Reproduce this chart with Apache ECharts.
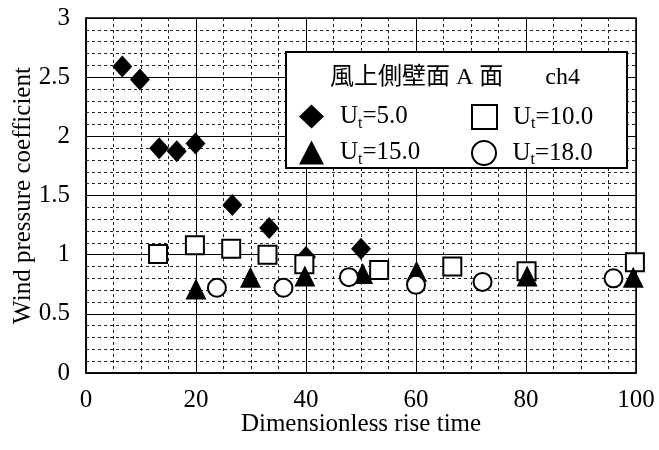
<!DOCTYPE html>
<html>
<head>
<meta charset="utf-8">
<script src="https://cdn.jsdelivr.net/npm/echarts@6/dist/echarts.min.js"></script>
<style>html,body{margin:0;padding:0;background:#fff;}#c{width:659px;height:450px;}</style>
</head>
<body>
<div id="c"></div>
<script>
// ---- data ----
const x5  = [6.6, 9.8, 13.3, 16.5, 19.9, 26.6, 33.3, 40.0, 50.0];
const y5  = [2.59, 2.48, 1.90, 1.875, 1.94, 1.42, 1.225, 0.98, 1.05];
const x10 = [13.1, 19.8, 26.4, 33.0, 39.7, 53.3, 66.6, 80.1, 99.8];
const y10 = [1.005, 1.08, 1.05, 1.0, 0.92, 0.87, 0.90, 0.86, 0.935];
const x15 = [20.0, 29.9, 39.8, 50.3, 60.1, 80.2, 99.5];
const y15 = [0.71, 0.81, 0.82, 0.84, 0.86, 0.82, 0.81];
const x18 = [23.8, 35.9, 47.8, 60.0, 72.1, 95.9];
const y18 = [0.72, 0.72, 0.81, 0.745, 0.77, 0.80];
const seriesNames = ['Ut=5.0', 'Ut=10.0', 'Ut=15.0', 'Ut=18.0'];
const legendValues = ['5.0', '10.0', '15.0', '18.0'];
const legendTitle = '風上側壁面 A 面　   ch4';
const xTitle = 'Dimensionless rise time';
const yTitle = 'Wind pressure coefficient';

const pts = (xs, ys) => xs.map((x, i) => [x, ys[i]]);
const FONT = '"Liberation Serif", "Times New Roman", serif';

const chart = echarts.init(document.getElementById('c'), null, {renderer: 'canvas'});

function legendFor(idx, left, top) {
  return {
    data: [seriesNames[idx]],
    left: left, top: top,
    orient: 'horizontal',
    itemWidth: 25, itemHeight: 24,
    padding: 0,
    selectedMode: false,
    z: 10,
    formatter: () => '{sp|}{b|U}{s|t}{b|=' + legendValues[idx] + '}',
    textStyle: {
      rich: {
        sp: {width: 11},
        b: {fontFamily: FONT, fontSize: 25, color: '#000', verticalAlign: 'middle'},
        s: {fontFamily: FONT, fontSize: 16, color: '#000', padding: [14, 0, 0, 0]}
      }
    }
  };
}

const option = {
  backgroundColor: '#fff',
  animation: false,
  grid: {left: 86, right: 23, top: 18, bottom: 77, show: true, borderColor: '#000', borderWidth: 1.5,
         backgroundColor: 'transparent', containLabel: false, outerBoundsMode: 'none'},
  xAxis: {
    type: 'value', min: 0, max: 100, interval: 20,
    axisLine: {show: true, lineStyle: {color: '#000', width: 1.5}},
    axisTick: {show: false},
    axisLabel: {fontFamily: FONT, fontSize: 25, color: '#000', margin: 15},
    splitLine: {show: true, lineStyle: {color: '#000', width: 1}},
    minorTick: {show: false, splitNumber: 4},
    minorSplitLine: {show: true, lineStyle: {color: '#222', width: 1, type: [3, 3]}},
    name: xTitle, nameLocation: 'middle', nameGap: 39, nameMoveOverlap: false,
    nameTextStyle: {fontFamily: FONT, fontSize: 25, color: '#000'}
  },
  yAxis: {
    type: 'value', min: 0, max: 3, interval: 0.5,
    axisLine: {show: true, lineStyle: {color: '#000', width: 1.5}},
    axisTick: {show: false},
    axisLabel: {fontFamily: FONT, fontSize: 25, color: '#000', margin: 16},
    splitLine: {show: true, lineStyle: {color: '#000', width: 1}},
    minorTick: {show: false, splitNumber: 5},
    minorSplitLine: {show: true, lineStyle: {color: '#222', width: 1, type: [3, 3]}},
    name: yTitle, nameLocation: 'middle', nameGap: 50, nameMoveOverlap: false,
    nameTextStyle: {fontFamily: FONT, fontSize: 25, color: '#000'}
  },
  title: {
    text: legendTitle, left: 330, top: 66, padding: 0, z: 10,
    textStyle: {fontFamily: '"Liberation Serif", "Noto Sans CJK JP", serif', fontSize: 24, fontWeight: 'normal', color: '#000'}
  },
  legend: [
    legendFor(0, 299, 104),
    legendFor(1, 471, 104),
    legendFor(2, 299, 140),
    legendFor(3, 471, 140)
  ],
  graphic: [{
    type: 'rect', z: 5,
    shape: {x: 286, y: 52, width: 341, height: 116},
    style: {fill: '#fff', stroke: '#000', lineWidth: 2}
  }],
  series: [
    {name: seriesNames[0], type: 'scatter', symbol: 'diamond', symbolSize: [20, 22], data: pts(x5, y5),
     itemStyle: {color: '#000', opacity: 1}, z: 2},
    {name: seriesNames[1], type: 'scatter', symbol: 'rect', symbolSize: 18, data: pts(x10, y10),
     itemStyle: {color: '#fff', borderColor: '#000', borderWidth: 2, opacity: 1}, z: 3},
    {name: seriesNames[2], type: 'scatter', symbol: 'triangle', symbolSize: 21, data: pts(x15, y15),
     itemStyle: {color: '#000', opacity: 1}, z: 4},
    {name: seriesNames[3], type: 'scatter', symbol: 'circle', symbolSize: 18, data: pts(x18, y18),
     itemStyle: {color: '#fff', borderColor: '#000', borderWidth: 2, opacity: 1}, z: 5}
  ]
};
chart.setOption(option);
</script>
</body>
</html>
